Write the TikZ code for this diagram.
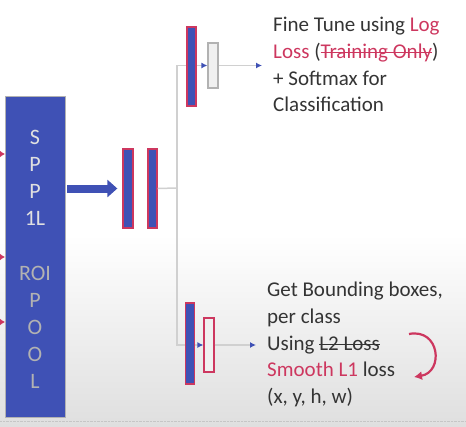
\documentclass[tikz,border=0pt]{standalone}
\usepackage{fontspec}
\setmainfont{Carlito}
\usetikzlibrary{arrows.meta,positioning}
\definecolor{slideblue}{RGB}{63,81,181}
\definecolor{lossred}{RGB}{205,55,95}
\definecolor{textgray}{RGB}{52,52,52}
\definecolor{linegray}{RGB}{208,208,208}
\newcommand{\strk}[1]{\setbox0\hbox{#1}\rlap{\copy0}\rule[0.27em]{\wd0}{1pt}}

\tikzset{
  fcbar/.style={draw=lossred, line width=1.3pt, fill=slideblue, inner sep=0pt, minimum width=9pt, minimum height=79pt},
  smallbox/.style={line width=1.2pt, fill=gray!12, inner sep=0pt, minimum width=10pt},
  conn/.style={draw=linegray, line width=1.5pt},
  bluetip/.style={-{Latex[color=slideblue,length=6pt,width=6pt]}},
  slidetext/.style={align=left, inner sep=0pt, text=textgray, font=\fontsize{21}{26.7}\selectfont},
  boxletters/.style={align=center, inner sep=0pt, font=\fontsize{22}{27}\selectfont},
}

\begin{document}
\begin{tikzpicture}[x=1pt, y=-1pt]
            \useasboundingbox (0,0) rectangle (466,426);

            % Screen background
            \fill[top color=white, bottom color=gray!25] (0,235) rectangle (466,426);
            \draw[gray!45, densely dotted] (0,421) -- (466,421);

            % SPP / ROI pooling layer
            \node[draw=gray!60, fill=slideblue, minimum width=60pt, minimum height=321pt, inner sep=0pt] (spp) at (35,256.5) {};
            \node[boxletters, text=white!88!black] (spptext) at (35,177.5) {S\\P\\P\\1L};
            \node[boxletters, text=gray!60] (roitext) at (35,327.5) {ROI\\P\\O\\O\\L};

            % Inputs coming in from the left
            \coordinate (in1) at (-12,154);
            \coordinate (in2) at (-12,257);
            \coordinate (in3) at (-12,322);
            \draw[lossred, -{Latex[length=6pt,width=8pt]}] (in1) -- (in1 -| spp.west);
            \draw[lossred, -{Latex[length=6pt,width=8pt]}] (in2) -- (in2 -| spp.west);
            \draw[lossred, -{Latex[length=6pt,width=8pt]}] (in3) -- (in3 -| spp.west);

            % Fully connected layers
            \node[fcbar, minimum width=10pt] (fc1) at (128,188.5) {};
            \node[fcbar] (fc2) at (152.5,188.5) {};
            \draw[slideblue, line width=8pt, -{Triangle[length=10pt,width=17pt]}, shorten >=5pt, shorten <=2pt] (spp.east |- fc1) -- (fc1.west);

            % Split into two heads
            \coordinate (split) at (177,188);
            \node[smallbox, draw=gray!60, minimum height=45pt] (clsbox) at (213,65.5) {};
            \node[smallbox, draw=lossred, minimum height=54pt] (regbox) at (209,345) {};

            % Head texts
            \node[slidetext, anchor=north west] (clstext) at (273,17) {Fine Tune using \textcolor{lossred}{Log}\\
                \textcolor{lossred}{Loss} (\textcolor{lossred}{\strk{Training Only}})\\
                + Softmax for\\
                Classification};
            \node[slidetext, anchor=north west] (regtext) at (267,282) {Get Bounding boxes,\\
                per class\\
                Using \strk{L2 Loss}\\
                \textcolor{lossred}{Smooth L1} loss\\
                (x, y, h, w)};

            \draw[conn] (fc2.east) -- (split);
            \draw[conn, bluetip] (split) |- (clsbox.west);
            \draw[conn, bluetip] (split) |- (regbox.west);
            \draw[conn, bluetip] (clsbox.east) -- ([xshift=-11pt]clsbox.east -| clstext.west);
            \draw[conn, bluetip] (regbox.east) -- ([xshift=-11pt]regbox.east -| regtext.west);

            % Head layers (drawn over the lines)
            \node[fcbar] (clsbar) at (191.5,66.5) {};
            \node[fcbar, minimum height=81pt] (regbar) at (190,343.5) {};

            % L2 -> Smooth L1 hint
            \coordinate (l2end) at (409,334);
            \coordinate (l1end) at (414,377);
            \draw[lossred, line width=2.2pt, -{Latex[length=8pt,width=9pt]}] (l2end) .. controls (440,328) and (444,372) .. (l1end);
        \end{tikzpicture}
\end{document}
